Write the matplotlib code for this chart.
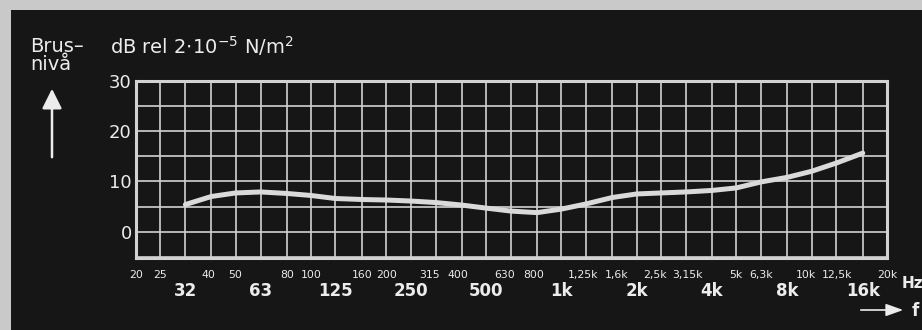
import matplotlib
matplotlib.use("Agg")
import matplotlib.pyplot as plt
from matplotlib.patches import Rectangle, FancyArrowPatch
from matplotlib.ticker import FixedLocator, FixedFormatter
from matplotlib.transforms import ScaledTranslation

# Third-octave band centres (Hz) where the noise level was measured
band_freqs = [31.5, 40, 50, 63, 80, 100, 125, 160, 200, 250, 315, 400, 500,
              630, 800, 1000, 1250, 1600, 2000, 2500, 3150, 4000, 5000,
              6300, 8000, 10000, 12500, 16000]
# Noise level, dB re 2e-5 N/m^2
noise_level = [5.4, 7.0, 7.7, 7.9, 7.6, 7.2, 6.6, 6.4, 6.3, 6.1, 5.8, 5.3,
               4.7, 4.1, 3.8, 4.5, 5.5, 6.8, 7.5, 7.7, 7.9, 8.2, 8.7, 9.9,
               10.8, 12.0, 13.6, 15.6]

# Small (upper row) frequency labels
small_freqs = [20, 25, 40, 50, 80, 100, 160, 200, 315, 400, 630, 800, 1250,
               1600, 2500, 3150, 5000, 6300, 10000, 12500, 20000]
small_labels = ["20", "25", "40", "50", "80", "100", "160", "200", "315",
                "400", "630", "800", "1,25k", "1,6k", "2,5k", "3,15k", "5k",
                "6,3k", "10k", "12,5k", "20k"]
# Octave band labels (lower row)
octave_freqs = [31.5, 63, 125, 250, 500, 1000, 2000, 4000, 8000, 16000]
octave_labels = ["32", "63", "125", "250", "500", "1k", "2k", "4k", "8k", "16k"]

# Level axis
level_ticks = [-5, 0, 5, 10, 15, 20, 25, 30]
level_labels = ["", "0", "", "10", "", "20", "", "30"]

BG = "#161616"
FG = "#ececec"
GRID = "#d2d2d2"
PAPER = "#c9c9c9"

# horizontal nudges (px) for crowded small labels
label_nudge = {"40": -3, "315": -6, "400": -4, "630": -6, "800": -3,
               "1,25k": -3, "1,6k": 4, "2,5k": -6, "3,15k": 1, "10k": -6,
               "12,5k": 1}

W, H = 922, 330
fig = plt.figure(figsize=(W / 100, H / 100), dpi=100, facecolor=PAPER)
fig.patches.append(Rectangle((11 / W, 0), 1 - 11 / W, 1 - 10 / H,
                             transform=fig.transFigure, facecolor=BG,
                             edgecolor="none", zorder=-5))

x0, x1, y0, y1 = 136, 887, 80.5, 257.5
ax = fig.add_axes([x0 / W, 1 - y1 / H, (x1 - x0) / W, (y1 - y0) / H])
ax.set_facecolor(BG)
ax.set_xscale("log")
ax.set_xlim(20, 20000)
ax.set_ylim(-5.1, 30)

ax.xaxis.set_major_locator(FixedLocator(small_freqs))
ax.xaxis.set_major_formatter(FixedFormatter(small_labels))
ax.xaxis.set_minor_locator(FixedLocator(octave_freqs))
ax.xaxis.set_minor_formatter(FixedFormatter(octave_labels))
ax.set_yticks(level_ticks)
ax.set_yticklabels(level_labels)

ax.grid(which="both", color=GRID, lw=1.2)
ax.set_axisbelow(True)
ax.tick_params(which="both", length=0, colors=FG)
ax.tick_params(axis="x", which="major", pad=9, labelsize=7.8)
ax.tick_params(axis="x", which="minor", pad=18, labelsize=12)
ax.tick_params(axis="y", pad=3, labelsize=13)
for lab in ax.get_xticklabels(which="minor"):
    lab.set_fontweight("bold")
for tick, text in zip(ax.xaxis.get_major_ticks(), small_labels):
    dx = label_nudge.get(text, 0)
    if dx:
        lab = tick.label1
        lab.set_transform(lab.get_transform()
                          + ScaledTranslation(dx / 100, 0, fig.dpi_scale_trans))
for s in ax.spines.values():
    s.set_color(GRID)
    s.set_linewidth(2.2)

ax.plot(band_freqs, noise_level, color="#dadada", lw=3.6,
        solid_capstyle="round", solid_joinstyle="round", zorder=3)

# Axis titles
fig.text(30 / W, 1 - 46 / H, "Brus–", color=FG, fontsize=14, va="center",
         ha="left")
fig.text(30 / W, 1 - 64 / H, "nivå", color=FG, fontsize=14, va="center",
         ha="left")
fig.text(110 / W, 1 - 46 / H, r"dB rel 2$\cdot$10$^{-5}$ N/m$^{2}$", color=FG,
         fontsize=14, va="center", ha="left")
fig.text(902 / W, 1 - 284 / H, "Hz", color=FG, fontsize=11, va="center",
         ha="left", fontweight="bold")
fig.text(912 / W, 1 - 311 / H, "f", color=FG, fontsize=12, va="center",
         ha="left", fontweight="bold")

fig.patches.append(FancyArrowPatch((52 / W, 1 - 160 / H), (52 / W, 1 - 86 / H),
                                   transform=fig.transFigure,
                                   arrowstyle="-|>,head_length=8,head_width=4",
                                   color=FG, lw=1.8, mutation_scale=1.5))
fig.patches.append(FancyArrowPatch((858 / W, 1 - 310 / H), (906 / W, 1 - 310 / H),
                                   transform=fig.transFigure,
                                   arrowstyle="-|>,head_length=7,head_width=2.5",
                                   color=FG, lw=1.2, mutation_scale=1.5))

fig.savefig("out.png", dpi=100, facecolor=PAPER)
